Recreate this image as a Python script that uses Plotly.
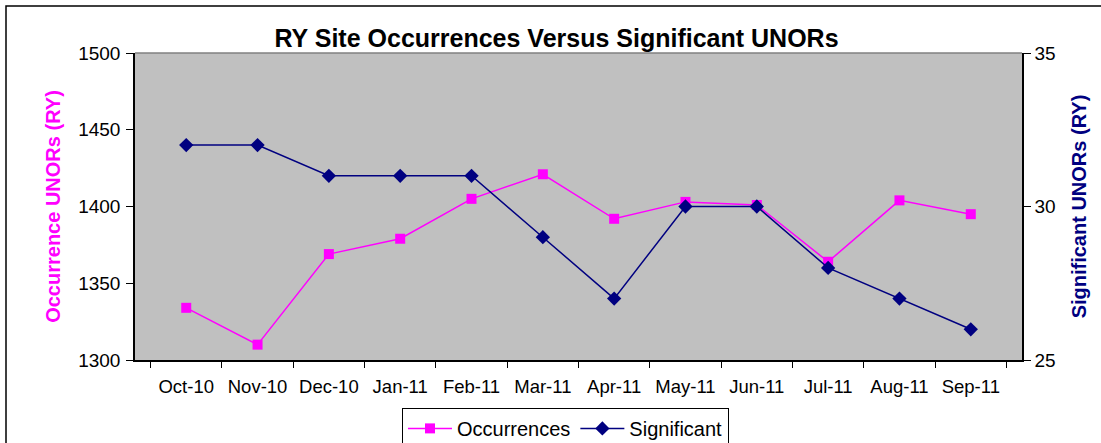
import plotly.graph_objects as go

months = ["Oct-10", "Nov-10", "Dec-10", "Jan-11", "Feb-11", "Mar-11",
          "Apr-11", "May-11", "Jun-11", "Jul-11", "Aug-11", "Sep-11"]
occurrences = [1334, 1310, 1369, 1379, 1405, 1421, 1392, 1403, 1401, 1364, 1404, 1395]
significant = [32, 32, 31, 31, 31, 29, 27, 30, 30, 28, 27, 26]
occ_range = [1300, 1500]
sig_range = [25, 35]

MAG = "#FF00FF"
NAVY = "#000080"
FONT = "Liberation Sans, Arial, sans-serif"
TICK = 18.5

fig = go.Figure()
fig.add_trace(go.Scatter(
    x=months, y=occurrences, name="Occurrences", mode="lines+markers",
    line=dict(color=MAG, width=1.5),
    marker=dict(symbol="square", size=10, color=MAG), yaxis="y"))
fig.add_trace(go.Scatter(
    x=months, y=significant, name="Significant", mode="lines+markers",
    line=dict(color=NAVY, width=1.5),
    marker=dict(symbol="diamond", size=11, color=NAVY), yaxis="y2"))

n = len(months)
fig.update_layout(
    width=1101, height=443,
    margin=dict(l=135, r=79, t=53, b=83, autoexpand=False),
    paper_bgcolor="white", plot_bgcolor="#C0C0C0",
    font=dict(family=FONT, size=TICK, color="black"),
    title=dict(text="<b>RY Site Occurrences Versus Significant UNORs</b>",
               xref="paper", x=(556.5 - 135) / 887, xanchor="center",
               yref="container", y=1 - 38 / 443, yanchor="middle",
               font=dict(size=25, family=FONT, color="black")),
    showlegend=True,
    legend=dict(orientation="h", x=0.301, xanchor="left", y=-0.156, yanchor="top",
                bgcolor="white", bordercolor="black", borderwidth=1,
                itemwidth=44, font=dict(size=20, family=FONT), traceorder="normal"),
    xaxis=dict(type="category", tickson="boundaries", ticks="outside", ticklen=6,
               tickcolor="black", showline=True, linecolor="black", linewidth=1.5,
               showgrid=False, tickfont=dict(size=TICK), ticklabelstandoff=9),
    yaxis=dict(range=occ_range, dtick=50, ticks="outside", ticklen=7,
               tickcolor="black", showline=True, linecolor="black", linewidth=1.5,
               showgrid=False, zeroline=False, tickfont=dict(size=TICK + 0.5),
               ticklabelstandoff=2,
               title=dict(text="<b>Occurrence UNORs (RY)</b>", standoff=12,
                          font=dict(color=MAG, size=20))),
    yaxis2=dict(range=sig_range, dtick=5, overlaying="y", side="right",
                ticks="outside", ticklen=7, tickcolor="black", showline=True,
                linecolor="black", linewidth=1.5, showgrid=False, zeroline=False,
                tickfont=dict(size=TICK + 0.5),
                title=dict(text="<b>Significant UNORs (RY)</b>", standoff=17,
                           font=dict(color=NAVY, size=20))),
    # inside halves of the crossing tick marks
    xaxis2=dict(overlaying="x", anchor="y", side="bottom", range=[-0.5, n - 0.5],
                tick0=-0.5, dtick=1, ticks="inside", ticklen=6, tickcolor="black",
                showticklabels=False, showgrid=False, zeroline=False, showline=False),
    yaxis3=dict(overlaying="y", anchor="x", side="left", range=occ_range, dtick=50,
                ticks="inside", ticklen=7, tickcolor="black", showticklabels=False,
                showgrid=False, zeroline=False, showline=False),
    yaxis4=dict(overlaying="y", anchor="x", side="right", range=sig_range, dtick=5,
                ticks="inside", ticklen=7, tickcolor="black", showticklabels=False,
                showgrid=False, zeroline=False, showline=False),
)

# plot-area top border and outer chart border
fig.add_shape(type="line", xref="paper", yref="paper", x0=0, x1=1, y0=1, y1=1,
              line=dict(color="#808080", width=1.5))
fig.add_shape(type="rect", xref="paper", yref="paper",
              x0=(6 - 135) / 887, x1=1.3, y0=-0.5, y1=(360 - 6) / 307,
              line=dict(color="black", width=1.5), fillcolor="rgba(0,0,0,0)")

fig.write_html("out.html", config={"displayModeBar": False})

# remove the default 8px body margin so the figure sits at the window origin
with open("out.html", "r", encoding="utf-8") as f:
    html = f.read()
html = html.replace("<body>", '<body style="margin:0;overflow:hidden">', 1)
with open("out.html", "w", encoding="utf-8") as f:
    f.write(html)
